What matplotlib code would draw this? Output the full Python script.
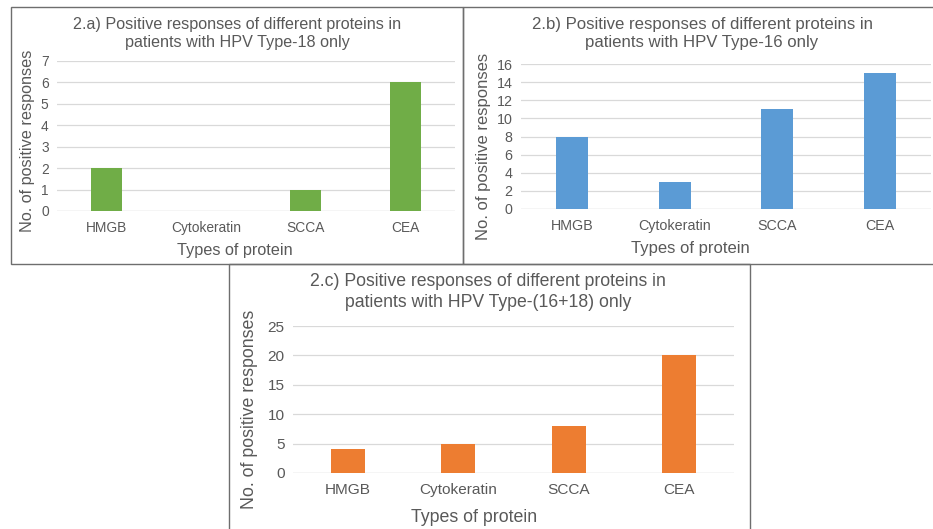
import matplotlib
matplotlib.use("Agg")
import matplotlib.pyplot as plt
from matplotlib.patches import Rectangle

proteins = ["HMGB", "Cytokeratin", "SCCA", "CEA"]
type18 = [2, 0, 1, 6]
type16 = [8, 3, 11, 15]
type16_18 = [4, 5, 8, 20]

W, H = 933, 529
plt.rcParams['font.family'] = ['Liberation Sans', 'DejaVu Sans']
TXT = '#595959'
GRID = '#D9D9D9'

fig = plt.figure(figsize=(W / 100, H / 100), dpi=100)


def fx(px):
    return px / W


def fy(py):
    return 1 - py / H


def panel(box, ax_px, values, color, ymax, step, title, title_xy, ylab_xy, xlab_xy,
          fs_title, fs_tick, fs_lab):
    # frame around the panel
    x0, y0, x1, y1 = box
    fig.patches.append(Rectangle((fx(x0), fy(y1)), fx(x1 - x0), (y1 - y0) / H,
                                 transform=fig.transFigure, fill=False,
                                 edgecolor='#6e6e6e', linewidth=1.0))
    l, t, r, b = ax_px
    ax = fig.add_axes([fx(l), fy(b), fx(r - l), (b - t) / H])
    x = range(len(proteins))
    ax.bar(x, values, width=0.31, color=color, zorder=3)
    ax.set_xlim(-0.5, len(proteins) - 0.5)
    ax.set_ylim(0, ymax)
    ax.set_yticks(range(0, ymax + 1, step))
    ax.set_xticks(list(x))
    ax.set_xticklabels(proteins)
    ax.grid(axis='y', color=GRID, linewidth=0.9, zorder=0)
    ax.axhline(0, color=GRID, linewidth=0.9, zorder=1)
    for s in ax.spines.values():
        s.set_visible(False)
    ax.tick_params(axis='both', length=0, colors=TXT, labelsize=fs_tick)
    ax.tick_params(axis='x', pad=7)
    ax.tick_params(axis='y', pad=6)
    fig.text(fx(title_xy[0]), fy(title_xy[1]), title, ha='center', va='center',
             color=TXT, fontsize=fs_title, linespacing=1.25)
    fig.text(fx(ylab_xy[0]), fy(ylab_xy[1]), "No. of positive responses", ha='center',
             va='center', rotation=90, color=TXT, fontsize=fs_lab)
    fig.text(fx(xlab_xy[0]), fy(xlab_xy[1]), "Types of protein", ha='center',
             va='center', color=TXT, fontsize=fs_lab)
    return ax


panel((11, 7, 463, 264), (57, 61, 455, 211), type18, '#70AD47', 7, 1,
      "2.a) Positive responses of different proteins in\npatients with HPV Type-18 only",
      (237, 33), (28, 141), (235, 251), 11.6, 9.9, 11.7)

panel((463, 7, 940, 264), (521, 64, 931, 209), type16, '#5B9BD5', 16, 2,
      "2.b) Positive responses of different proteins in\npatients with HPV Type-16 only",
      (702, 33), (483, 146), (690, 248), 12.1, 10.3, 12.0)

panel((229, 264, 750, 540), (293, 326, 734, 473), type16_18, '#ED7D31', 25, 5,
      "2.c) Positive responses of different proteins in\npatients with HPV Type-(16+18) only",
      (488, 292), (250, 409), (474, 517), 12.7, 11.1, 12.8)

fig.savefig("out.png", dpi=100)
